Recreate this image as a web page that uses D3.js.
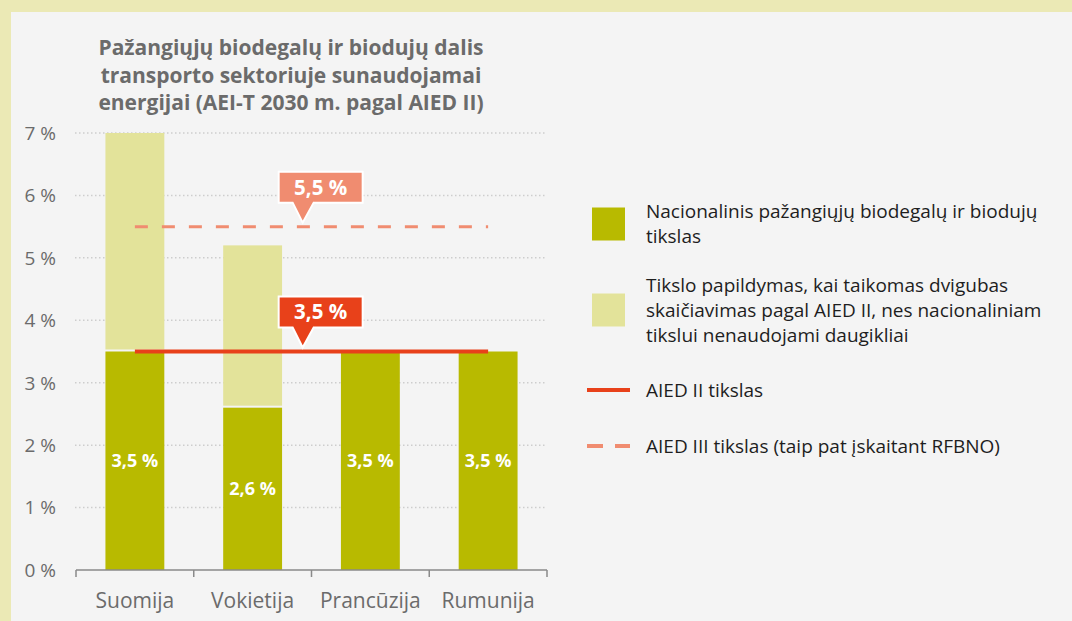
<!DOCTYPE html>
<html>
<head>
<meta charset="utf-8">
<script src="https://cdn.jsdelivr.net/npm/d3@7"></script>
<style>
  html, body { margin: 0; padding: 0; background: #f4f4f4; }
  svg { display: block; font-family: "Open Sans", sans-serif; }
</style>
</head>
<body>
<svg id="chart" width="1072" height="621"></svg>
<script>
// Data
const countries = ["Suomija", "Vokietija", "Prancūzija", "Rumunija"];
const nationalTarget = [3.5, 2.6, 3.5, 3.5];          // national advanced biofuel target, %
const doubleCountingExtra = [3.5, 2.6, 0, 0];          // addition under double counting (RED II)
const barLabels = ["3,5 %", "2,6 %", "3,5 %", "3,5 %"];
const redIITarget = 3.5;
const redIIITarget = 5.5;
const redIILabel = "3,5 %";
const redIIILabel = "5,5 %";
const yTicks = [0, 1, 2, 3, 4, 5, 6, 7];
const yTickLabels = ["0 %", "1 %", "2 %", "3 %", "4 %", "5 %", "6 %", "7 %"];
const titleLines = [
  "Pažangiųjų biodegalų ir biodujų dalis",
  "transporto sektoriuje sunaudojamai",
  "energijai (AEI-T 2030 m. pagal AIED II)"
];
const legendItems = [
  { type: "rect", color: "#b8ba00", lines: ["Nacionalinis pažangiųjų biodegalų ir biodujų", "tikslas"] },
  { type: "rect", color: "#e3e39a", lines: ["Tikslo papildymas, kai taikomas dvigubas", "skaičiavimas pagal AIED II, nes nacionaliniam", "tikslui nenaudojami daugikliai"] },
  { type: "line", color: "#e8411a", lines: ["AIED II tikslas"] },
  { type: "dash", color: "#f08c70", lines: ["AIED III tikslas (taip pat įskaitant RFBNO)"] }
];

const darkGreen = "#b8ba00", lightGreen = "#e3e39a";
const red = "#e8411a", salmon = "#f08c70";

const svg = d3.select("#chart");

// Frame
svg.append("rect").attr("width", 1072).attr("height", 621).attr("fill", "#ebe9b5");
svg.append("rect").attr("x", 11).attr("y", 12).attr("width", 1061).attr("height", 609).attr("fill", "#f4f4f4");

// Scales
const x = d3.scaleBand().domain(countries).range([76, 547]).paddingInner(0.5).paddingOuter(0.25);
const y = d3.scaleLinear().domain([0, 7]).range([570, 133]);

// Title
svg.append("text")
  .attr("x", 291).attr("y", 55)
  .attr("text-anchor", "middle")
  .attr("fill", "#6b6b6b")
  .style("font-weight", 700).style("font-size", "21px")
  .selectAll("tspan").data(titleLines).join("tspan")
  .attr("x", 291).attr("dy", (d, i) => i === 0 ? 0 : 27.5)
  .text(d => d);

// Gridlines (dotted)
svg.append("g").selectAll("line").data(yTicks.filter(t => t > 0)).join("line")
  .attr("x1", 75).attr("x2", 547)
  .attr("y1", d => y(d)).attr("y2", d => y(d))
  .attr("stroke", "#cdcdcd").attr("stroke-width", 1.5)
  .attr("stroke-dasharray", "1.5,2.5");

// Y tick labels
svg.append("g").selectAll("text").data(yTicks).join("text")
  .attr("x", 56).attr("y", d => y(d))
  .attr("dy", "0.36em")
  .attr("text-anchor", "end")
  .attr("fill", "#6b6b6b")
  .style("font-size", "19px")
  .text((d, i) => yTickLabels[i]);

// Bars: national target segment
const barG = svg.append("g");
barG.selectAll("rect.base").data(countries).join("rect")
  .attr("class", "base")
  .attr("x", d => x(d))
  .attr("width", x.bandwidth())
  .attr("y", (d, i) => y(nationalTarget[i]))
  .attr("height", (d, i) => y(0) - y(nationalTarget[i]))
  .attr("fill", darkGreen);

// Bars: double counting addition
barG.selectAll("rect.extra").data(countries.filter((d, i) => doubleCountingExtra[i] > 0)).join("rect")
  .attr("class", "extra")
  .attr("x", d => x(d))
  .attr("width", x.bandwidth())
  .attr("y", d => { const i = countries.indexOf(d); return y(nationalTarget[i] + doubleCountingExtra[i]); })
  .attr("height", d => { const i = countries.indexOf(d); return y(nationalTarget[i]) - y(nationalTarget[i] + doubleCountingExtra[i]) - 2; })
  .attr("fill", lightGreen);

// Bar value labels
barG.selectAll("text").data(countries).join("text")
  .attr("x", d => x(d) + x.bandwidth() / 2)
  .attr("y", (d, i) => y(nationalTarget[i] / 2))
  .attr("dy", "0.36em")
  .attr("text-anchor", "middle")
  .attr("fill", "#fff")
  .style("font-weight", 700).style("font-size", "18px")
  .text((d, i) => barLabels[i]);

// X axis
const axisG = svg.append("g").attr("transform", `translate(0,${y(0)})`);
const [r0, r1] = x.range();
axisG.append("line").attr("x1", r0).attr("x2", r1).attr("stroke", "#8a8a8a").attr("stroke-width", 1.5);
const boundaries = d3.range(countries.length + 1).map(i => r0 + i * x.step());
axisG.selectAll("line.tick").data(boundaries).join("line")
  .attr("class", "tick")
  .attr("x1", d => d).attr("x2", d => d).attr("y1", 0).attr("y2", 7)
  .attr("stroke", "#8a8a8a").attr("stroke-width", 1.5);
axisG.selectAll("text").data(countries).join("text")
  .attr("x", d => x(d) + x.bandwidth() / 2)
  .attr("y", 38)
  .attr("text-anchor", "middle")
  .attr("fill", "#6b6b6b")
  .style("font-size", "21px")
  .text(d => d);

// Target lines span first to last bar centre
const lx1 = x(countries[0]) + x.bandwidth() / 2;
const lx2 = x(countries[countries.length - 1]) + x.bandwidth() / 2;

svg.append("line")
  .attr("x1", lx1).attr("x2", lx2)
  .attr("y1", y(redIIITarget)).attr("y2", y(redIIITarget))
  .attr("stroke", salmon).attr("stroke-width", 3)
  .attr("stroke-dasharray", "13,14");

svg.append("line")
  .attr("x1", lx1).attr("x2", lx2)
  .attr("y1", y(redIITarget)).attr("y2", y(redIITarget))
  .attr("stroke", red).attr("stroke-width", 4);

// Callout bubble with pointer
function callout(value, label, color) {
  const tipX = lx1 + 0.475 * (lx2 - lx1);
  const tipY = y(value) - 4;
  const bottom = tipY - 20, top = bottom - 31;
  const left = tipX - 24, right = tipX + 60;
  const path = d3.path();
  path.moveTo(left, top);
  path.lineTo(right, top);
  path.lineTo(right, bottom);
  path.lineTo(tipX + 11, bottom);
  path.lineTo(tipX, tipY);
  path.lineTo(tipX - 10, bottom);
  path.lineTo(left, bottom);
  path.closePath();
  const g = svg.append("g");
  g.append("path").attr("d", path.toString())
    .attr("fill", color).attr("stroke", "#fff").attr("stroke-width", 2)
    .attr("stroke-linejoin", "miter");
  g.append("text")
    .attr("x", (left + right) / 2).attr("y", (top + bottom) / 2)
    .attr("dy", "0.36em")
    .attr("text-anchor", "middle")
    .attr("fill", "#fff")
    .style("font-weight", 700).style("font-size", "20.5px")
    .text(label);
}
callout(redIIITarget, redIIILabel, salmon);
callout(redIITarget, redIILabel, red);

// Legend
const legendY = [224, 310, 390, 446];
const lg = svg.append("g");
legendItems.forEach((item, k) => {
  const cy = legendY[k];
  if (item.type === "rect") {
    lg.append("rect").attr("x", 592).attr("y", cy - 16.5).attr("width", 33).attr("height", 33).attr("fill", item.color);
  } else {
    lg.append("line").attr("x1", 587).attr("x2", 630).attr("y1", cy).attr("y2", cy)
      .attr("stroke", item.color)
      .attr("stroke-width", 4)
      .attr("stroke-dasharray", item.type === "dash" ? "16,12" : null);
  }
  const n = item.lines.length;
  lg.append("text")
    .attr("fill", "#1e1e1e")
    .style("font-size", "19px")
    .selectAll("tspan").data(item.lines).join("tspan")
    .attr("x", 646)
    .attr("y", (d, i) => cy + (i - (n - 1) / 2) * 25)
    .attr("dy", "0.36em")
    .text(d => d);
});
</script>
</body>
</html>
